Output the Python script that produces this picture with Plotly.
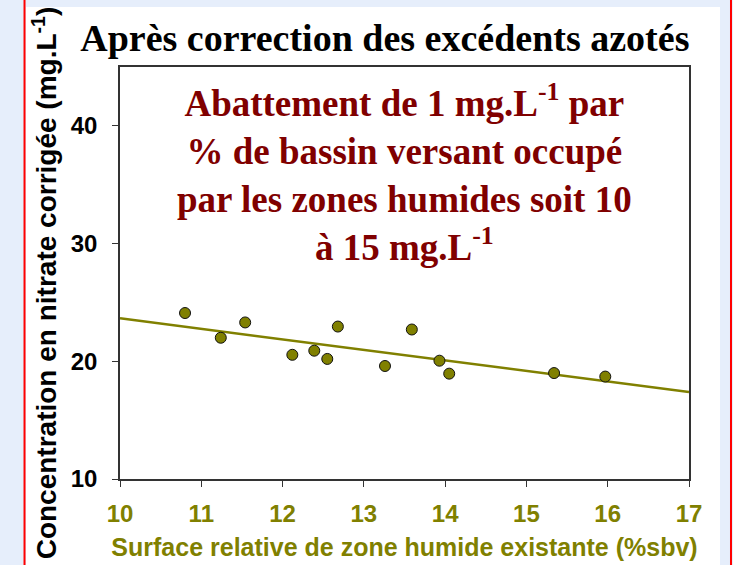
import plotly.graph_objects as go

# surface relative de zone humide (%sbv) et concentration corrigée (mg/L)
surface = [10.80, 11.24, 11.54, 12.12, 12.39, 12.55, 12.68, 13.26, 13.59, 13.93, 14.05, 15.34, 15.97]
nitrate = [24.1, 22.0, 23.3, 20.55, 20.9, 20.2, 22.95, 19.6, 22.7, 20.05, 18.95, 19.0, 18.7]

# droite de tendance
trend_x = [10, 17]
trend_y = [23.65, 17.4]

x_ticks = [10, 11, 12, 13, 14, 15, 16, 17]
y_ticks = [10, 20, 30, 40]

olive = "#808000"
bordeaux = "#800000"
sans = "Liberation Sans, Arial, sans-serif"
serif = "Liberation Serif, Times New Roman, serif"

fig = go.Figure()
fig.add_trace(go.Scatter(x=trend_x, y=trend_y, mode="lines",
                         line=dict(color=olive, width=2.5), hoverinfo="skip"))
fig.add_trace(go.Scatter(x=surface, y=nitrate, mode="markers",
                         marker=dict(color=olive, size=11, line=dict(color="#111", width=1))))

# fond blanc et filets rouges (coordonnées paper calées sur la zone de tracé)
fig.add_shape(type="rect", xref="paper", yref="paper", x0=-0.1652, x1=1.0545, y0=-0.25, y1=1.1456,
              fillcolor="white", line=dict(width=0), layer="below")
for xp in [-0.1678, 1.0738]:
    fig.add_shape(type="line", xref="paper", yref="paper", x0=xp, x1=xp, y0=-0.25, y1=1.2,
                  line=dict(color="#ff0000", width=2), layer="below")

fig.add_annotation(
    text="Abattement de 1 mg.L<sup>-1</sup> par<br>% de bassin versant occupé<br>"
         "par les zones humides soit 10<br>à 15 mg.L<sup>-1</sup>",
    xref="paper", yref="paper", x=0.5, y=0.743, xanchor="center", yanchor="middle",
    showarrow=False, align="center",
    font=dict(family=serif, size=37, color=bordeaux, weight="bold"))

# titre de l'axe y posé en annotation pour le caler sur toute la hauteur
fig.add_annotation(
    text="Concentration en nitrate corrigée (mg.L<sup>-1</sup>)",
    xref="paper", yref="paper", x=-0.1318, y=0.475, xanchor="center", yanchor="middle",
    textangle=-90, showarrow=False,
    font=dict(family=sans, size=28, color="black", weight="bold"))

fig.update_layout(
    width=733, height=565,
    margin=dict(l=120, r=44, t=67, b=86, autoexpand=False),
    paper_bgcolor="#e6eefb", plot_bgcolor="white",
    showlegend=False,
    title=dict(text="Après correction des excédents azotés", x=0.525, xref="container",
               y=0.933, yref="container", xanchor="center", yanchor="middle",
               font=dict(family=serif, size=38, color="black", weight="bold")),
)
fig.update_xaxes(range=[10, 17], tickvals=x_ticks, showgrid=False, zeroline=False,
                 showline=True, mirror=True, linecolor="#333", linewidth=1.5, automargin=False,
                 ticks="outside", ticklen=6, tickcolor="#333", ticklabelstandoff=6,
                 tickfont=dict(family=sans, size=24, color=olive, weight="bold"),
                 title=dict(text="Surface relative de zone humide existante (%sbv)", standoff=13,
                            font=dict(family=sans, size=25, color=olive, weight="bold")))
fig.update_yaxes(range=[10, 45], tickvals=y_ticks, showgrid=False, zeroline=False,
                 showline=True, mirror=True, linecolor="#333", linewidth=1.5, automargin=False,
                 ticks="outside", ticklen=6, tickcolor="#333", ticklabelstandoff=10,
                 tickfont=dict(family=sans, size=24, color="black", weight="bold"))

fig.write_html("out.html", config={"displayModeBar": False},
               post_script="document.body.style.margin='0';")
